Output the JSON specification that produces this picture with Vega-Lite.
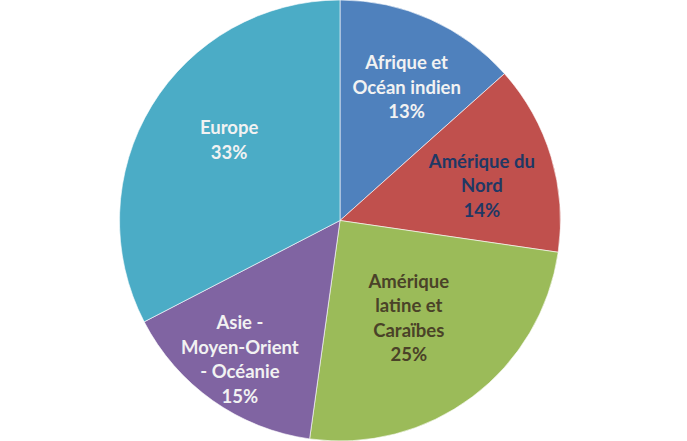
{
  "$schema": "https://vega.github.io/schema/vega-lite/v6.json",
  "autosize": {"type": "fit", "contains": "padding"},
  "width": 687,
  "height": 441,
  "padding": {"left": 0, "right": 7, "top": 0, "bottom": 0},
  "background": "white",
  "view": {"stroke": null},
  "data": {
    "values": [
      {"i": 1, "region": "Afrique et Océan indien", "value": 13.4, "label": "Afrique et\nOcéan indien\n13%"},
      {"i": 2, "region": "Amérique du Nord", "value": 13.9, "label": "Amérique du\nNord\n14%"},
      {"i": 3, "region": "Amérique latine et Caraïbes", "value": 24.9, "label": "Amérique\nlatine et\nCaraïbes\n25%"},
      {"i": 4, "region": "Asie - Moyen-Orient - Océanie", "value": 15.2, "label": "Asie -\nMoyen-Orient\n- Océanie\n15%"},
      {"i": 5, "region": "Europe", "value": 32.6, "label": "Europe\n33%"}
    ]
  },
  "transform": [
    {"stack": "value", "groupby": [], "sort": [{"field": "i", "order": "ascending"}], "as": ["v0", "v1"]},
    {"calculate": "(datum.v0 + datum.v1) / 2", "as": "mid"}
  ],
  "layer": [
    {
      "mark": {"type": "arc", "outerRadius": 220.5, "stroke": "#ffffff", "strokeWidth": 0.6},
      "encoding": {
        "theta": {"field": "v0", "type": "quantitative", "scale": {"domain": [0, 100]}},
        "theta2": {"field": "v1"},
        "color": {
          "field": "region",
          "type": "nominal",
          "scale": {
            "domain": ["Afrique et Océan indien", "Amérique du Nord", "Amérique latine et Caraïbes", "Asie - Moyen-Orient - Océanie", "Europe"],
            "range": ["#4F81BD", "#C0504D", "#9BBB59", "#8064A2", "#4BACC6"]
          },
          "legend": null
        }
      }
    },
    {
      "transform": [{"filter": "datum.i == 1"}],
      "mark": {"type": "text", "radius": 148.5, "dx": 6, "dy": -21.5, "font": "Lato", "fontWeight": "bold", "fontSize": 18.5, "lineHeight": 24.5, "lineBreak": "\n", "align": "center", "baseline": "middle", "color": "#F2F2F2"},
      "encoding": {
        "theta": {"field": "mid", "type": "quantitative"},
        "text": {"field": "label", "type": "nominal"}
      }
    },
    {
      "transform": [{"filter": "datum.i == 2"}],
      "mark": {"type": "text", "radius": 146, "dx": 2, "dy": -16.5, "font": "Lato", "fontWeight": "bold", "fontSize": 18.5, "lineHeight": 24.5, "lineBreak": "\n", "align": "center", "baseline": "middle", "color": "#1F3864"},
      "encoding": {
        "theta": {"field": "mid", "type": "quantitative"},
        "text": {"field": "label", "type": "nominal"}
      }
    },
    {
      "transform": [{"filter": "datum.i == 3"}],
      "mark": {"type": "text", "radius": 119.6, "dx": -3, "dy": -34.4, "font": "Lato", "fontWeight": "bold", "fontSize": 18.5, "lineHeight": 24.5, "lineBreak": "\n", "align": "center", "baseline": "middle", "color": "#4A4228"},
      "encoding": {
        "theta": {"field": "mid", "type": "quantitative"},
        "text": {"field": "label", "type": "nominal"}
      }
    },
    {
      "transform": [{"filter": "datum.i == 4"}],
      "mark": {"type": "text", "radius": 171.6, "dx": -1, "dy": -37.4, "font": "Lato", "fontWeight": "bold", "fontSize": 18.5, "lineHeight": 24.5, "lineBreak": "\n", "align": "center", "baseline": "middle", "color": "#F2F2F2"},
      "encoding": {
        "theta": {"field": "mid", "type": "quantitative"},
        "text": {"field": "label", "type": "nominal"}
      }
    },
    {
      "transform": [{"filter": "datum.i == 5"}],
      "mark": {"type": "text", "radius": 136.8, "dx": 6, "dy": -21.2, "font": "Lato", "fontWeight": "bold", "fontSize": 18.5, "lineHeight": 24.5, "lineBreak": "\n", "align": "center", "baseline": "middle", "color": "#F2F2F2"},
      "encoding": {
        "theta": {"field": "mid", "type": "quantitative"},
        "text": {"field": "label", "type": "nominal"}
      }
    }
  ]
}
